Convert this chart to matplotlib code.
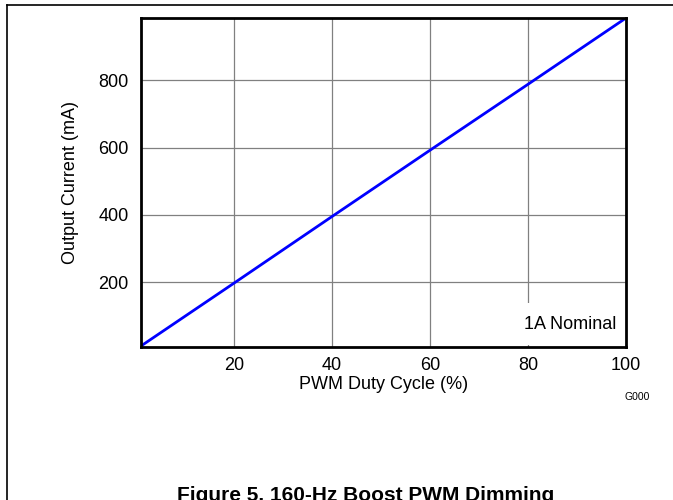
import matplotlib
matplotlib.use('Agg')
import matplotlib.pyplot as plt
from matplotlib.lines import Line2D

plt.rcParams['font.family'] = ['Liberation Sans', 'DejaVu Sans']

# PWM duty cycle (%) vs output current (mA)
duty = [1, 20, 40, 60, 80, 100]
current = [10, 197, 395, 592, 788, 985]
x_ticks = [20, 40, 60, 80, 100]
y_ticks = [200, 400, 600, 800]

fig = plt.figure(figsize=(6.73, 5.0), dpi=100)
ax = fig.add_axes([141/673, 1-347/500, 485/673, 329/500])

ax.plot(duty, current, color='#0000ff', lw=2, zorder=2, solid_capstyle='butt')
ax.set_xlim(1, 100)
ax.set_ylim(7, 985)
ax.set_xticks(x_ticks)
ax.set_yticks(y_ticks)
ax.grid(True, color='#808080', lw=0.9)
ax.tick_params(length=0, labelsize=13)
ax.tick_params(axis='x', pad=7)
ax.tick_params(axis='y', pad=9)
for s in ax.spines.values():
    s.set_linewidth(2)
    s.set_color('black')

ax.set_xlabel('PWM Duty Cycle (%)', fontsize=13)
ax.set_ylabel('Output Current (mA)', fontsize=13)
ax.xaxis.set_label_coords(0.501, -0.1125)
ax.yaxis.set_label_coords(-0.146, 0.5)
ax.xaxis.label.set_va('center')
ax.yaxis.label.set_va('center')

ax.text(0.981, 0.043, '1A Nominal', transform=ax.transAxes, ha='right', va='bottom',
        fontsize=13, zorder=2.3,
        bbox=dict(facecolor='white', edgecolor='none', pad=9))

fig.text(637/673, 1-397/500, 'G000', fontsize=7.5, ha='center', va='center')
fig.text(366/673, 1-486/500, 'Figure 5. 160-Hz Boost PWM Dimming', fontsize=15,
         fontweight='bold', ha='center', va='top')

# page frame
fig.add_artist(Line2D([7/673, 1], [1-5/500, 1-5/500], color='black', lw=1.2))
fig.add_artist(Line2D([7/673, 7/673], [0, 1-5/500], color='black', lw=1.2))

fig.savefig('out.png', dpi=100)
